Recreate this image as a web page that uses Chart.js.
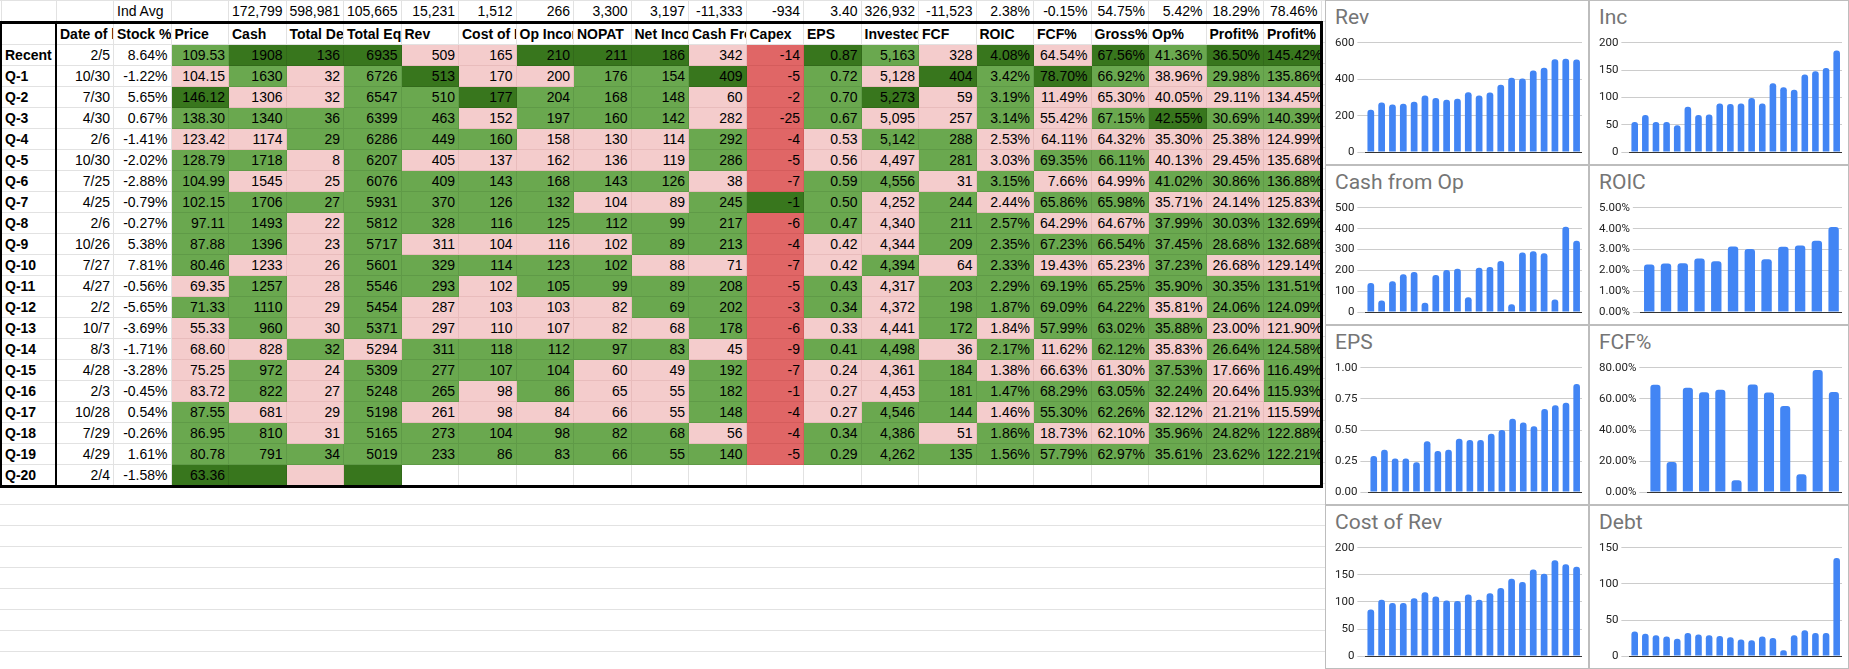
<!DOCTYPE html>
<html>
<head>
<meta charset="utf-8">
<script src="https://cdn.jsdelivr.net/npm/chart.js@4"></script>
<style>
  body { margin: 0; width: 1849px; height: 669px; overflow: hidden; background: #fff;
         font-family: "Liberation Sans", Arial, sans-serif; font-size: 14px; }
  #sheet { position: absolute; left: 0; top: 0; width: 1325px; height: 669px;
           background-image: linear-gradient(#e2e2e2 1px, transparent 1px);
           background-size: 100% 21px; }
  table { position: absolute; left: 0; top: 0; width: 1320px; border-collapse: collapse; table-layout: fixed; }
  td { height: 20px; padding: 0 3px; border: 1px solid #e2e2e2; text-align: right;
       white-space: nowrap; overflow: hidden; background: #fff; }
  td.lbl { text-align: left; font-weight: bold; }
  tr.head td { font-weight: bold; text-align: left; }
  tr.avg td { border-bottom: 3px solid #000; }
  #panels { position: absolute; left: 1325px; top: 0; width: 524px; height: 669px; }
  .panel { position: absolute; background: #fff; border: 1px solid #bdbdbd; box-sizing: border-box; }
  .panel .t { position: absolute; left: 9px; top: 4px; font-family: "Roboto", sans-serif;
              font-size: 21px; color: #757575; }
  .panel canvas { position: absolute; }
</style>
</head>
<body>
<div id="sheet"><table id="tbl"></table></div>
<div id="panels"></div>
<script>
// table columns, Recent first
const rowLabels = ['Recent','Q-1','Q-2','Q-3','Q-4','Q-5','Q-6','Q-7','Q-8','Q-9','Q-10','Q-11','Q-12','Q-13','Q-14','Q-15','Q-16','Q-17','Q-18','Q-19','Q-20'];
const headers = ['Date of l','Stock %','Price','Cash','Total Del','Total Equ','Rev','Cost of F','Op Incor','NOPAT','Net Incoi','Cash Fro','Capex','EPS','Invested','FCF','ROIC','FCF%','Gross%','Op%','Profit%','Profit% S'];
const indAvg = ['','Ind Avg','','172,799','598,981','105,665','15,231','1,512','266','3,300','3,197','-11,333','-934','3.40','326,932','-11,523','2.38%','-0.15%','54.75%','5.42%','18.29%','78.46%'];
const dates = ['2/5','10/30','7/30','4/30','2/6','10/30','7/25','4/25','2/6','10/26','7/27','4/27','2/2','10/7','8/3','4/28','2/3','10/28','7/29','4/29','2/4'];
const stockPct = [8.64,-1.22,5.65,0.67,-1.41,-2.02,-2.88,-0.79,-0.27,5.38,7.81,-0.56,-5.65,-3.69,-1.71,-3.28,-0.45,0.54,-0.26,1.61,-1.58];
const price = [109.53,104.15,146.12,138.30,123.42,128.79,104.99,102.15,97.11,87.88,80.46,69.35,71.33,55.33,68.60,75.25,83.72,87.55,86.95,80.78,63.36];
const cash = [1908,1630,1306,1340,1174,1718,1545,1706,1493,1396,1233,1257,1110,960,828,972,822,681,810,791];
const debt = [136,32,32,36,29,8,25,27,22,23,26,28,29,30,32,24,27,29,31,34];
const equity = [6935,6726,6547,6399,6286,6207,6076,5931,5812,5717,5601,5546,5454,5371,5294,5309,5248,5198,5165,5019];
const rev = [509,513,510,463,449,405,409,370,328,311,329,293,287,297,311,277,265,261,273,233];
const costRev = [165,170,177,152,160,137,143,126,116,104,114,102,103,110,118,107,98,98,104,86];
const opInc = [210,200,204,197,158,162,168,132,125,116,123,105,103,107,112,104,86,84,98,83];
const nopat = [211,176,168,160,130,136,143,104,112,102,102,99,82,82,97,60,65,66,82,66];
const netInc = [186,154,148,142,114,119,126,89,99,89,88,89,69,68,83,49,55,55,68,55];
const cashOp = [342,409,60,282,292,286,38,245,217,213,71,208,202,178,45,192,182,148,56,140];
const capex = [-14,-5,-2,-25,-4,-5,-7,-1,-6,-4,-7,-5,-3,-6,-9,-7,-1,-4,-4,-5];
const eps = [0.87,0.72,0.70,0.67,0.53,0.56,0.59,0.50,0.47,0.42,0.42,0.43,0.34,0.33,0.41,0.24,0.27,0.27,0.34,0.29];
const invested = [5163,5128,5273,5095,5142,4497,4556,4252,4340,4344,4394,4317,4372,4441,4498,4361,4453,4546,4386,4262];
const fcf = [328,404,59,257,288,281,31,244,211,209,64,203,198,172,36,184,181,144,51,135];
const roic = [4.08,3.42,3.19,3.14,2.53,3.03,3.15,2.44,2.57,2.35,2.33,2.29,1.87,1.84,2.17,1.38,1.47,1.46,1.86,1.56];
const fcfPct = [64.54,78.70,11.49,55.42,64.11,69.35,7.66,65.86,64.29,67.23,19.43,69.19,69.09,57.99,11.62,66.63,68.29,55.30,18.73,57.79];
const grossPct = [67.56,66.92,65.30,67.15,64.32,66.11,64.99,65.98,64.67,66.54,65.23,65.25,64.22,63.02,62.12,61.30,63.05,62.26,62.10,62.97];
const opPct = [41.36,38.96,40.05,42.55,35.30,40.13,41.02,35.71,37.99,37.45,37.23,35.90,35.81,35.88,35.83,37.53,32.24,32.12,35.96,35.61];
const profitPct = [36.50,29.98,29.11,30.69,25.38,29.45,30.86,24.14,30.03,28.68,26.68,30.35,24.06,23.00,26.64,17.66,20.64,21.21,24.82,23.62];
const profitSPct = [145.42,135.86,134.45,140.39,124.99,135.68,136.88,125.83,132.69,132.68,129.14,131.51,124.09,121.90,124.58,116.49,115.93,115.59,122.88,122.21];

const PINK = '#f4cccc', GREEN = '#6aa84f', DARK = '#38761d', RED = '#e06666';
const int = v => String(v);
const comma = v => v.toLocaleString('en-US');
const dec2 = v => v.toFixed(2);
const pct = v => v.toFixed(2) + '%';

const cols = [
  [dates, String, null], [stockPct, pct, null], [price, dec2, 'cmp'], [cash, int, 'cmp'],
  [debt, int, 'cmp'], [equity, int, 'cmp'], [rev, int, 'cmp'], [costRev, int, 'cmp'],
  [opInc, int, 'cmp'], [nopat, int, 'cmp'], [netInc, int, 'cmp'], [cashOp, int, 'cmp'],
  [capex, int, 'capex'], [eps, dec2, 'cmp'], [invested, comma, 'cmp'], [fcf, int, 'cmp'],
  [roic, pct, 'cmp'], [fcfPct, pct, 'cmp'], [grossPct, pct, 'cmp'], [opPct, pct, 'cmp'],
  [profitPct, pct, 'cmp'], [profitSPct, pct, 'cmp']
];
// last row has only a few coloured cells
const lastRowFill = [null, null, DARK, DARK, PINK, DARK];

function fill(arr, i, mode) {
  if (!mode) return '#fff';
  const top20 = arr.slice(0, 20);
  if (i === top20.indexOf(Math.max(...top20))) return DARK;
  if (mode === 'capex') return RED;
  if (i === 19) return GREEN;
  return arr[i] > arr[i + 1] ? GREEN : PINK;
}

const tbl = document.getElementById('tbl');
let html = '<colgroup><col style="width:55px">' + headers.map(() => '<col style="width:57.5px">').join('') + '</colgroup>';
html += '<tr class="avg"><td></td>' + indAvg.map((v, j) => `<td style="${j === 1 ? 'text-align:left' : ''}">${v}</td>`).join('') + '</tr>';
html += '<tr class="head"><td style="border-left:2px solid #000;border-right:2px solid #000"></td>' +
        headers.map((h, j) => `<td style="${j === headers.length - 1 ? 'border-right:3px solid #000' : ''}">${h}</td>`).join('') + '</tr>';
rowLabels.forEach((lab, i) => {
  const last = i === rowLabels.length - 1;
  const bb = last ? 'border-bottom:3px solid #000;' : '';
  html += `<tr><td class="lbl" style="border-left:2px solid #000;border-right:2px solid #000;${bb}">${lab}</td>`;
  cols.forEach(([arr, fmt, mode], j) => {
    let bg, txt = '';
    if (i < 20) { bg = fill(arr, i, mode); txt = fmt(arr[i]); }
    else { bg = lastRowFill[j] || '#fff'; if (arr[i] !== undefined) txt = fmt(arr[i]); }
    const br = j === cols.length - 1 ? 'border-right:3px solid #000;' : '';
    const bc = bg === '#fff' ? '' : `border-color:${bg === GREEN ? '#5f9a47' : bg === PINK ? '#e8bcbc' : bg === DARK ? '#326a1a' : '#d45c5c'};`;
    html += `<td style="background:${bg};${bc}${br}${bb}">${txt}</td>`;
  });
  html += '</tr>';
});
tbl.innerHTML = html;

// charts: oldest first
const rec20 = a => a.slice(0, 20).reverse();
const rec12 = a => a.slice(0, 12).reverse();
const panels = [
  { t: 'Rev', d: rec20(rev), max: 600, step: 200, f: v => v },
  { t: 'Inc', d: rec20(netInc), max: 200, step: 50, f: v => v },
  { t: 'Cash from Op', d: rec20(cashOp), max: 500, step: 100, f: v => v },
  { t: 'ROIC', d: rec12(roic), max: 5, step: 1, f: v => v.toFixed(2) + '%' },
  { t: 'EPS', d: rec20(eps), max: 1, step: 0.25, f: v => v.toFixed(2) },
  { t: 'FCF%', d: rec12(fcfPct), max: 80, step: 20, f: v => v.toFixed(2) + '%' },
  { t: 'Cost of Rev', d: rec20(costRev), max: 200, step: 50, f: v => v },
  { t: 'Debt', d: rec20(debt), max: 150, step: 50, f: v => v }
];
const tops = [0, 165, 325, 505, 669];
const lefts = [0, 264, 524];
const wrap = document.getElementById('panels');
panels.forEach((p, k) => {
  const c = k % 2, r = Math.floor(k / 2);
  const div = document.createElement('div');
  div.className = 'panel';
  const w = lefts[c + 1] - lefts[c], h = tops[r + 1] - tops[r];
  Object.assign(div.style, { left: lefts[c] + 'px', top: tops[r] + 'px', width: w + 'px', height: h + 'px' });
  div.innerHTML = `<div class="t">${p.t}</div>`;
  const cv = document.createElement('canvas');
  const cw = w - 14, ch = h - 36;
  cv.width = cw; cv.height = ch;
  cv.style.left = '6px'; cv.style.top = '32px';
  cv.style.width = cw + 'px'; cv.style.height = ch + 'px';
  div.appendChild(cv);
  wrap.appendChild(div);
  new Chart(cv, {
    type: 'bar',
    data: { labels: p.d.map((_, i) => i), datasets: [{ data: p.d, backgroundColor: '#4285f4',
            borderRadius: { topLeft: 3, topRight: 3 }, borderSkipped: 'bottom',
            barPercentage: 0.62, categoryPercentage: 1 }] },
    options: {
      responsive: false, animation: false, maintainAspectRatio: false,
      plugins: { legend: { display: false }, tooltip: { enabled: false } },
      scales: {
        x: { ticks: { display: false }, grid: { display: false }, border: { color: '#333' } },
        y: { min: 0, max: p.max, ticks: { stepSize: p.step, callback: p.f, color: '#222',
             font: { family: 'Roboto', size: 11.5 } }, grid: { color: '#ccc' }, border: { display: false } }
      }
    }
  });
});
</script>
</body>
</html>
